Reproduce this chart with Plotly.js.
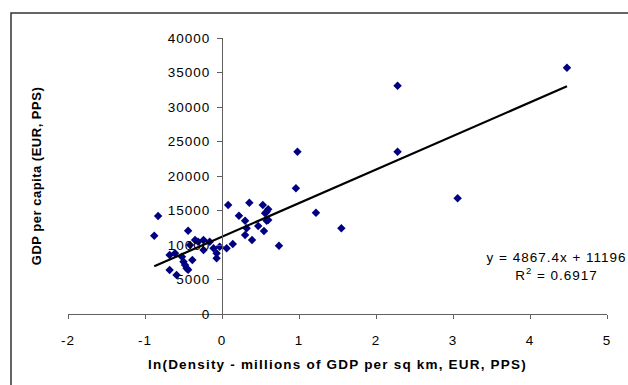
<!DOCTYPE html>
<html>
<head>
<meta charset="utf-8">
<script src="https://cdn.plot.ly/plotly-3.0.1.min.js"></script>
<style>
  html, body { margin: 0; padding: 0; background: #fff; }
  #chart { width: 628px; height: 385px; }
  #chart .ytick text, #chart .xtick text { letter-spacing: 1px; }
  #chart .xtitle { letter-spacing: 1.2px; }
  #chart .ytitle { letter-spacing: 0.5px; }
  #chart .annotation-text { letter-spacing: 1px; }
</style>
</head>
<body>
<div id="chart"></div>
<script>
// ln(Density - millions of GDP per sq km, EUR, PPS)
const lnDensity = [
  -0.88, -0.83, -0.68, -0.68, -0.61, -0.59, -0.52, -0.50, -0.48, -0.46,
  -0.44, -0.44, -0.415, -0.385, -0.35, -0.31, -0.24, -0.24, -0.16, -0.11,
  -0.07, -0.07, -0.03, 0.06, 0.08, 0.14, 0.22, 0.30, 0.32, 0.30,
  0.355, 0.39, 0.47, 0.53, 0.545, 0.56, 0.58, 0.60, 0.58, 0.60,
  0.74, 0.96, 0.98, 1.22, 1.55, 2.28, 2.28, 3.06, 4.48
];
// GDP per capita (EUR, PPS)
const gdpPerCapita = [
  11350, 14200, 6380, 8550, 8800, 5650, 8300, 7580, 7100, 6620,
  6400, 12070, 10000, 7830, 10720, 10480, 10720, 9280, 10480, 9520,
  8800, 8070, 9750, 9520, 15800, 10140, 14250, 13520, 12420, 11450,
  16130, 10720, 12750, 15800, 12030, 14590, 14830, 15170, 13520, 13620,
  9900, 18220, 23520, 14680, 12420, 33090, 23520, 16770, 35700
];
// Linear trendline as printed on the chart
const trendSlope = 4867.4;
const trendIntercept = 11196;
const trendR2 = 0.6917;

const xTickVals = [-2, -1, 0, 1, 2, 3, 4, 5];
const yTickVals = [0, 5000, 10000, 15000, 20000, 25000, 30000, 35000, 40000];

const xMin = Math.min(...lnDensity);
const xMax = Math.max(...lnDensity);
const trendX = [xMin, xMax];
const trendY = trendX.map(v => trendSlope * v + trendIntercept);

const FONT = 'Liberation Sans, Arial, sans-serif';
const xRange = [-2, 5];

const data = [
  {
    type: 'scatter', mode: 'markers', x: lnDensity, y: gdpPerCapita,
    marker: { symbol: 'diamond', size: 6.5, color: '#000080' },
    hoverinfo: 'x+y', showlegend: false
  },
  {
    type: 'scatter', mode: 'lines', x: trendX, y: trendY,
    line: { color: '#000000', width: 2.2 }, showlegend: false
  }
];

const layout = {
  width: 628, height: 385,
  margin: { l: 68, r: 21, t: 38, b: 71 },
  paper_bgcolor: '#ffffff', plot_bgcolor: '#ffffff',
  font: { family: FONT, size: 13.5, color: '#000000' },
  showlegend: false,
  xaxis: {
    range: xRange, tickvals: xTickVals, ticktext: xTickVals.map(String),
    showgrid: false, zeroline: false,
    showline: true, linecolor: '#606060', linewidth: 1,
    ticks: 'outside', ticklen: 4, tickcolor: '#606060', tickwidth: 1,
    ticklabelstandoff: 10,
    tickfont: { family: FONT, size: 13.5, color: '#000' },
    title: { text: 'ln(Density - millions of GDP per sq km, EUR, PPS)',
             font: { family: FONT, size: 13.5, color: '#000', weight: 'bold' }, standoff: 12 }
  },
  yaxis: {
    range: [0, 40000], tickvals: yTickVals, ticktext: yTickVals.map(String),
    anchor: 'free', position: (0 - xRange[0]) / (xRange[1] - xRange[0]),
    showgrid: false, zeroline: false,
    showline: true, linecolor: '#606060', linewidth: 1,
    ticks: 'outside', ticklen: 5, tickcolor: '#606060', tickwidth: 1,
    ticklabelstandoff: 4,
    tickfont: { family: FONT, size: 13.5, color: '#000' },
    title: { text: 'GDP per capita (EUR, PPS)',
             font: { family: FONT, size: 13, color: '#000', weight: 'bold' }, standoff: 127 }
  },
  shapes: [
    { type: 'rect', xref: 'paper', yref: 'paper',
      x0: (11 - 68) / 539, x1: (640 - 68) / 539,
      y0: (314 - 400) / 276, y1: (314 - 13) / 276,
      line: { color: '#333333', width: 1.5 }, fillcolor: 'rgba(0,0,0,0)', layer: 'below' }
  ],
  annotations: [
    { xref: 'paper', yref: 'paper', x: (556 - 68) / 539, y: (314 - 266.5) / 276,
      xanchor: 'center', yanchor: 'middle', showarrow: false, align: 'center',
      text: 'y = ' + trendSlope.toFixed(1) + 'x + ' + trendIntercept + '<br>R<sup>2</sup> = ' + trendR2.toFixed(4),
      font: { family: FONT, size: 13.5, color: '#000' } }
  ]
};

Plotly.newPlot('chart', data, layout, { displayModeBar: false, staticPlot: true });
</script>
</body>
</html>
